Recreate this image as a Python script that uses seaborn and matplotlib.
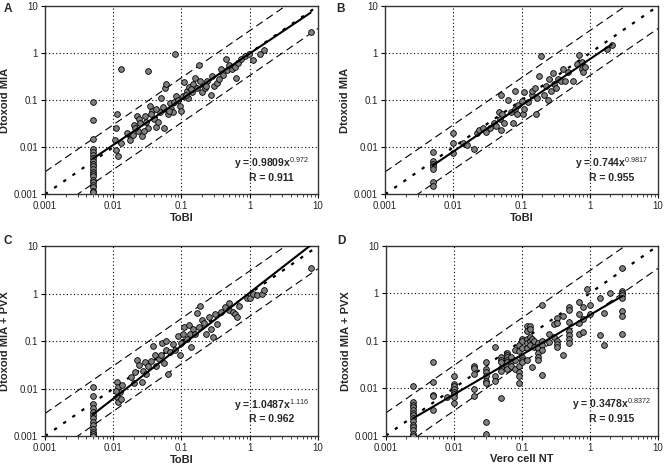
import numpy as np
import pandas as pd
import matplotlib
matplotlib.use("Agg")
import matplotlib.pyplot as plt
import seaborn as sns
from matplotlib.ticker import FixedLocator, FuncFormatter, LogLocator, NullLocator

sns.set_theme(style="white")
plt.rcParams['font.family'] = ['Liberation Sans', 'DejaVu Sans']
plt.rcParams['mathtext.fontset'] = 'custom'
plt.rcParams['mathtext.rm'] = 'Liberation Sans'
plt.rcParams['mathtext.bf'] = 'Liberation Sans:bold'

# ---------------- data ----------------
# Panel A: ToBI vs Dtoxoid MIA
a_x = [0.005]*20 + [0.013, 0.032, 0.08,
       0.0112, 0.011, 0.0105, 0.011, 0.0118, 0.0128, 0.0175, 0.0195, 0.02, 0.022, 0.024, 0.023,
       0.026, 0.029, 0.03, 0.032, 0.034, 0.037, 0.04, 0.043, 0.048, 0.05, 0.053, 0.055, 0.058,
       0.06, 0.063, 0.067, 0.07, 0.075, 0.083, 0.095, 0.1, 0.105, 0.11, 0.12, 0.125, 0.13,
       0.145, 0.15, 0.16, 0.17, 0.18, 0.19, 0.2, 0.22, 0.24, 0.27, 0.28, 0.3, 0.33, 0.38, 0.4,
       0.45, 0.46, 0.55, 0.6, 0.63, 0.68, 0.75, 0.85, 0.98, 1.1, 1.4, 1.6, 7.8,
       0.016, 0.021, 0.025, 0.028, 0.036, 0.042, 0.045, 0.065, 0.078, 0.09, 0.115, 0.14, 0.23,
       0.35, 0.5]
a_y = [0.09, 0.037, 0.015, 0.009, 0.008, 0.007, 0.006, 0.005, 0.0045, 0.004, 0.0035, 0.003,
       0.0027, 0.0024, 0.002, 0.0018, 0.0016, 0.0014, 0.0012, 0.0011] + [0.47, 0.42, 0.95,
       0.05, 0.025, 0.014, 0.0087, 0.0065, 0.012, 0.014, 0.018, 0.03, 0.047, 0.04, 0.022,
       0.017, 0.045, 0.035, 0.026, 0.075, 0.06, 0.04, 0.027, 0.055, 0.11, 0.07, 0.026, 0.18,
       0.22, 0.05, 0.085, 0.065, 0.055, 0.12, 0.075, 0.06, 0.12, 0.24, 0.16, 0.11, 0.19,
       0.15, 0.22, 0.3, 0.18, 0.55, 0.26, 0.15, 0.18, 0.25, 0.13, 0.33, 0.2, 0.23, 0.45, 0.35,
       0.75, 0.44, 0.45, 0.5, 0.29, 0.62, 0.75, 0.85, 0.95, 0.72, 0.95, 1.15, 2.8,
       0.02, 0.025, 0.032, 0.022, 0.05, 0.065, 0.035, 0.06, 0.09, 0.1, 0.13, 0.17, 0.2,
       0.28, 0.55]

# Panel B: ToBI vs Dtoxoid MIA
b_x = [0.005]*7 + [0.01, 0.01, 0.01, 0.014, 0.016, 0.02, 0.022, 0.024, 0.027, 0.03, 0.035,
       0.04, 0.042, 0.046, 0.048, 0.05, 0.052, 0.05, 0.055, 0.063, 0.07, 0.075, 0.08, 0.08,
       0.085, 0.09, 0.1, 0.105, 0.11, 0.11, 0.125, 0.14, 0.14, 0.16, 0.165, 0.17, 0.18, 0.19,
       0.21, 0.23, 0.24, 0.25, 0.27, 0.29, 0.3, 0.32, 0.34, 0.38, 0.4, 0.43, 0.48, 0.57, 0.65,
       0.7, 0.76, 0.78, 0.8, 0.85, 1.8, 2.1]
b_y = [0.008, 0.0052, 0.0045, 0.004, 0.0035, 0.0018, 0.0015] + [0.02, 0.012, 0.0075, 0.012,
       0.011, 0.009, 0.02, 0.023, 0.025, 0.021, 0.026, 0.033, 0.028, 0.055, 0.04, 0.023, 0.05,
       0.13, 0.033, 0.1, 0.055, 0.033, 0.16, 0.065, 0.05, 0.08, 0.095, 0.05, 0.065, 0.15,
       0.09, 0.13, 0.16, 0.18, 0.05, 0.11, 0.33, 0.85, 0.13, 0.2, 0.1, 0.28, 0.16, 0.37, 0.22,
       0.18, 0.28, 0.25, 0.45, 0.26, 0.4, 0.26, 0.6, 0.93, 0.65, 0.45, 0.4, 0.5, 1.25, 1.5]

# Panel C: ToBI vs Dtoxoid MIA + PVX
c_x = [0.005]*13 + [0.0112, 0.0118, 0.0125, 0.0112, 0.0118, 0.013, 0.0135, 0.0108, 0.018,
       0.02, 0.021, 0.022, 0.024, 0.026, 0.027, 0.029, 0.03, 0.032, 0.036, 0.038, 0.041, 0.043,
       0.047, 0.05, 0.052, 0.056, 0.06, 0.06, 0.063, 0.067, 0.075, 0.08, 0.09, 0.095, 0.1,
       0.105, 0.11, 0.12, 0.13, 0.135, 0.14, 0.15, 0.16, 0.17, 0.18, 0.19, 0.2, 0.215, 0.23,
       0.25, 0.27, 0.29, 0.31, 0.33, 0.38, 0.44, 0.49, 0.5, 0.56, 0.6, 0.65, 0.7, 0.9, 1.0,
       1.1, 1.3, 1.5, 1.6, 7.8]
c_y = [0.011, 0.007, 0.0048, 0.004, 0.0033, 0.0028, 0.0024, 0.002, 0.0017, 0.0014, 0.0012,
       0.0011, 0.001] + [0.0137, 0.011, 0.0085, 0.0067, 0.0053, 0.006, 0.012, 0.009, 0.018,
       0.013, 0.022, 0.04, 0.032, 0.014, 0.024, 0.036, 0.02, 0.03, 0.038, 0.08, 0.05, 0.03,
       0.042, 0.05, 0.09, 0.035, 0.1, 0.065, 0.02, 0.058, 0.085, 0.065, 0.13, 0.05, 0.09,
       0.14, 0.2, 0.11, 0.22, 0.14, 0.075, 0.18, 0.14, 0.39, 0.2, 0.55, 0.28, 0.24, 0.14,
       0.32, 0.18, 0.12, 0.37, 0.23, 0.42, 0.53, 0.63, 0.45, 0.42, 0.38, 0.33, 0.55, 0.82,
       0.8, 1.0, 0.95, 1.0, 1.2, 3.4]

# Panel D: Vero cell NT vs Dtoxoid MIA + PVX
d_x = ([0.0025]*14 + [0.005]*5 + [0.0079] + [0.01]*8 + [0.02]*5 + [0.03]*8 + [0.04]*3 +
       [0.05]*6 + [0.06]*7 + [0.07]*3 + [0.08]*3 + [0.09]*6 + [0.1]*6 + [0.12]*6 + [0.13]*5 +
       [0.14]*2 + [0.15]*2 + [0.17]*5 + [0.2]*5 + [0.25]*2 + [0.3]*2 + [0.33]*5 + [0.4]*2 +
       [0.5]*7 + [0.7]*4 + [0.8]*3 + [0.9] + [1.0]*2 + [1.4]*2 + [1.6]*2 + [2.0] + [3.0]*8)
d_y = [0.011, 0.005, 0.0045, 0.004, 0.0035, 0.003, 0.0027, 0.0024, 0.002, 0.0017, 0.0015,
       0.0013, 0.0011, 0.001,
       0.035, 0.0135, 0.0072, 0.0068, 0.0035,
       0.0065,
       0.018, 0.012, 0.011, 0.0095, 0.0085, 0.0075, 0.0065, 0.0048,
       0.03, 0.027, 0.02, 0.0095, 0.007,
       0.035, 0.025, 0.022, 0.018, 0.014, 0.013, 0.0019, 0.0011,
       0.075, 0.018, 0.014,
       0.045, 0.04, 0.035, 0.026, 0.023, 0.0062,
       0.055, 0.05, 0.045, 0.04, 0.035, 0.03, 0.025,
       0.045, 0.035, 0.03,
       0.065, 0.04, 0.025,
       0.08, 0.06, 0.03, 0.022, 0.018, 0.013,
       0.11, 0.1, 0.07, 0.045, 0.04, 0.035,
       0.2, 0.16, 0.11, 0.09, 0.07, 0.04,
       0.2, 0.18, 0.12, 0.1, 0.08,
       0.028, 0.11,
       0.1, 0.075,
       0.09, 0.07, 0.055, 0.045, 0.04,
       0.55, 0.1, 0.08, 0.065, 0.019,
       0.14, 0.095,
       0.22, 0.12,
       0.3, 0.23, 0.1, 0.085, 0.075,
       0.33, 0.05,
       0.5, 0.45, 0.25, 0.16, 0.13, 0.11, 0.09,
       0.65, 0.37, 0.23, 0.14,
       0.5, 0.28, 0.15,
       1.2,
       0.55, 0.37,
       0.8, 0.13,
       0.38, 0.08,
       1.0,
       3.4, 1.1, 1.0, 0.9, 0.8, 0.42, 0.33, 0.14]

panel_letters = ["A", "B", "C", "D"]
x_labels = ["ToBI", "ToBI", "ToBI", "Vero cell NT"]
y_labels = ["Dtoxoid MIA", "Dtoxoid MIA", "Dtoxoid MIA + PVX", "Dtoxoid MIA + PVX"]
fit_a = [0.9809, 0.744, 1.0487, 0.3478]
fit_b = [0.972, 0.9817, 1.116, 0.8372]
fit_b_txt = ["0.972", "0.9817", "1.116", "0.8372"]
fit_r = ["0.911", "0.955", "0.962", "0.915"]
fit_xmin = [0.005, 0.005, 0.005, 0.0025]
fit_xmax = [7.8, 2.1, 9.5, 3.0]
tick_vals = [0.001, 0.01, 0.1, 1, 10]
band_factor = 3.0

xs = [a_x, b_x, c_x, d_x]
ys = [a_y, b_y, c_y, d_y]

# ---------------- layout ----------------
fig = plt.figure(figsize=(6.64, 4.67), dpi=100)
positions = [
    [0.0678, 0.584, 0.411, 0.403],
    [0.5800, 0.584, 0.411, 0.403],
    [0.0678, 0.066, 0.411, 0.407],
    [0.5810, 0.067, 0.410, 0.407],
]
letter_pos = [(0.006, 0.993), (0.506, 0.993), (0.006, 0.497), (0.508, 0.497)]

for i in range(4):
    ax = fig.add_axes(positions[i])
    ax.set_xscale("log")
    ax.set_yscale("log")
    ax.set_xlim(0.001, 10)
    ax.set_ylim(0.001, 10)

    # grid
    for v in tick_vals[1:-1]:
        ax.axvline(v, color="black", lw=0.8, ls=(0, (1, 2.2)), zorder=1)
        ax.axhline(v, color="black", lw=0.8, ls=(0, (1, 2.2)), zorder=1)

    ref = np.array([0.001, 10.0])
    ax.plot(ref, ref * band_factor, color="black", lw=0.8, ls=(0, (7, 4)), zorder=2)
    ax.plot(ref, ref / band_factor, color="black", lw=0.8, ls=(0, (7, 4)), zorder=2)
    ax.plot(ref, ref, color="black", lw=1.6, ls=(0, (1.5, 3.5)), zorder=2)

    df = pd.DataFrame({"x": xs[i], "y": ys[i]})
    sns.scatterplot(data=df, x="x", y="y", ax=ax, s=17, color="#808080",
                    edgecolor="black", linewidth=0.6, zorder=4, legend=False)

    fx = np.geomspace(fit_xmin[i], fit_xmax[i], 50)
    fy = fit_a[i] * fx ** fit_b[i]
    ax.plot(fx, fy, color="black", lw=1.5, zorder=5)

    ax.xaxis.set_major_locator(FixedLocator(tick_vals))
    ax.yaxis.set_major_locator(FixedLocator(tick_vals))
    ax.xaxis.set_minor_locator(LogLocator(base=10, subs=np.arange(2, 10)))
    ax.yaxis.set_minor_locator(NullLocator())
    fmt = FuncFormatter(lambda v, p: "%g" % v)
    ax.xaxis.set_major_formatter(fmt)
    ax.yaxis.set_major_formatter(fmt)
    ax.tick_params(axis="both", which="major", labelsize=7, length=3, width=0.8,
                   direction="out", color="black", pad=2, bottom=True, left=True)
    ax.tick_params(axis="x", which="minor", length=2, width=0.5, direction="out",
                   color="black", bottom=True)
    for s in ax.spines.values():
        s.set_color("#333333")
        s.set_linewidth(1.0)

    ax.set_xlabel(x_labels[i], fontsize=8, fontweight="bold", labelpad=1)
    ax.set_ylabel(y_labels[i], fontsize=8, fontweight="bold", labelpad=3)

    ax.text(0.83, 0.165, "y = %sx$^{%s}$" % (fit_a[i], fit_b_txt[i]), transform=ax.transAxes,
            ha="center", va="center", fontsize=7.5, fontweight="bold", zorder=6)
    ax.text(0.83, 0.088, "R = %s" % fit_r[i], transform=ax.transAxes,
            ha="center", va="center", fontsize=7.5, fontweight="bold", zorder=6)

    fig.text(letter_pos[i][0], letter_pos[i][1], panel_letters[i], ha="left", va="top",
             fontsize=8.5, fontweight="bold")

fig.savefig("out.png", dpi=100)
